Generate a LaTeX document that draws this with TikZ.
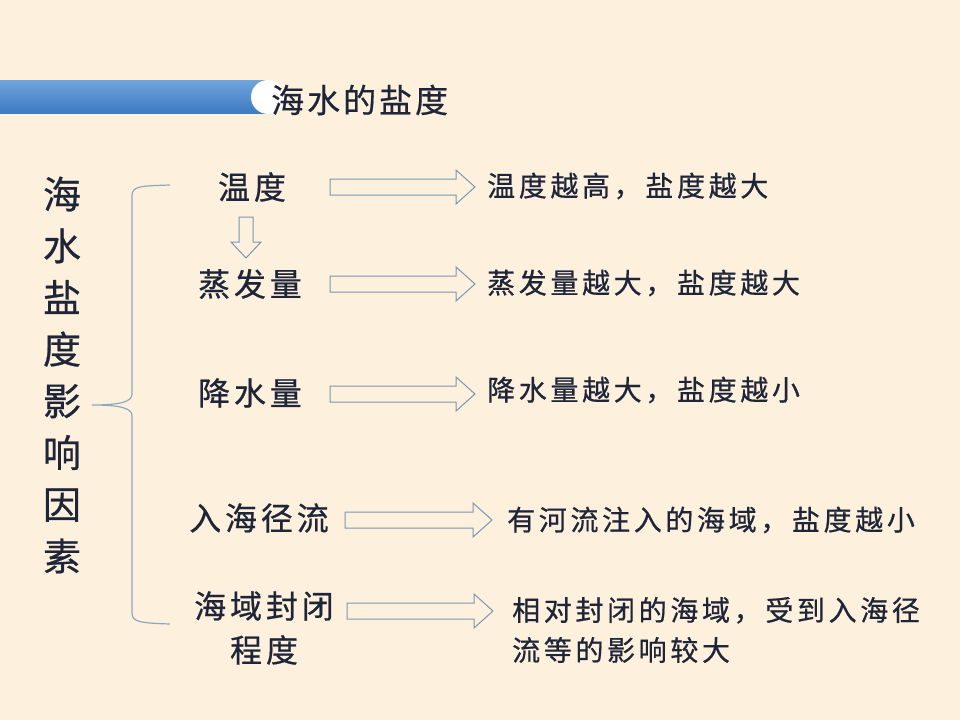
\documentclass[tikz,border=0pt]{standalone}
\usepackage{fontspec}
\newfontfamily\cjk[FakeBold=0.6]{Noto Sans CJK SC}
\newfontfamily\cjkA[LetterSpace=12,FakeBold=0.6]{Noto Sans CJK SC}
\newfontfamily\cjkB[LetterSpace=13,FakeBold=0.6]{Noto Sans CJK SC}
\newfontfamily\cjkH[LetterSpace=9,FakeBold=0.6]{Noto Sans CJK SC}
\definecolor{bg}{HTML}{FDF0DC}
\definecolor{ink}{HTML}{1E2538}
\definecolor{edge}{HTML}{7A96B4}
\definecolor{bracec}{HTML}{8FA8C0}
\definecolor{barTop}{HTML}{6FA5DC}
\definecolor{barBot}{HTML}{3C7AC2}
\tikzset{
  factor/.style={inner sep=0pt, text=ink, font=\cjkA\fontsize{32}{44}\selectfont, align=center},
  result/.style={inner sep=0pt, text=ink, anchor=west, font=\cjkB\fontsize{28}{40}\selectfont, align=left},
  blockarrow/.style={draw=edge, fill=bg, line width=1pt, line join=miter},
}
% hollow arrow: start x, end x, y
\newcommand{\harrow}[3]{%
  \draw[blockarrow] (#1,#3-8) -- (#2-19,#3-8) -- (#2-19,#3-17) -- (#2,#3) -- (#2-19,#3+17)
    -- (#2-19,#3+8) -- (#1,#3+8) -- cycle;}
\begin{document}
\begin{tikzpicture}[x=1pt,y=-1pt]
\useasboundingbox (0,0) rectangle (960,720);
\fill[bg] (0,0) rectangle (960,720);
% header bar
\shade[top color=barTop, bottom color=barBot] (0,80) rectangle (268,113);
\fill[white] (268,97) circle (17);
\node[anchor=west, inner sep=0pt, text=ink, font=\cjkH\fontsize{33}{36}\selectfont] (title) at (271,100) {海水的盐度};
% vertical title
\node[inner sep=0pt, text=ink, align=center, font=\cjk\fontsize{38}{51.7}\selectfont] (vtitle) at (62,375)
  {海\\水\\盐\\度\\影\\响\\因\\素};
% brace
\draw[bracec, line width=1.2pt] (170,185) .. controls (140,186) and (132,186) .. (132,196)
  -- (132,394) .. controls (132,402) and (120,405) .. (92,405)
  .. controls (120,405) and (132,408) .. (132,416)
  -- (132,613) .. controls (132,622) and (140,623) .. (170,624);
% factors
\node[factor] (t) at (252,187) {温度};
\node[factor] (e) at (250,284) {蒸发量};
\node[factor] (p) at (250,393) {降水量};
\node[factor] (r) at (259,518) {入海径流};
\node[factor] (c) at (264,628) {海域封闭\\程度};
% results
\node[result] (rt) at (487,186) {温度越高，盐度越大};
\node[result] (re) at (487,283) {蒸发量越大，盐度越大};
\node[result] (rp) at (487,390) {降水量越大，盐度越小};
\node[result] (rr) at (507,520) {有河流注入的海域，盐度越小};
\node[result] (rc) at (512,630) {相对封闭的海域，受到入海径\\流等的影响较大};
% arrows
\harrow{330}{475}{187}
\harrow{330}{475}{284}
\harrow{330}{475}{394}
\harrow{345}{492}{520}
\harrow{347}{493}{611}
% down arrow
\draw[blockarrow] (239,217) -- (253,217) -- (253,242) -- (261,242) -- (246,258) -- (231,242)
  -- (239,242) -- cycle;
\end{tikzpicture}
\end{document}
